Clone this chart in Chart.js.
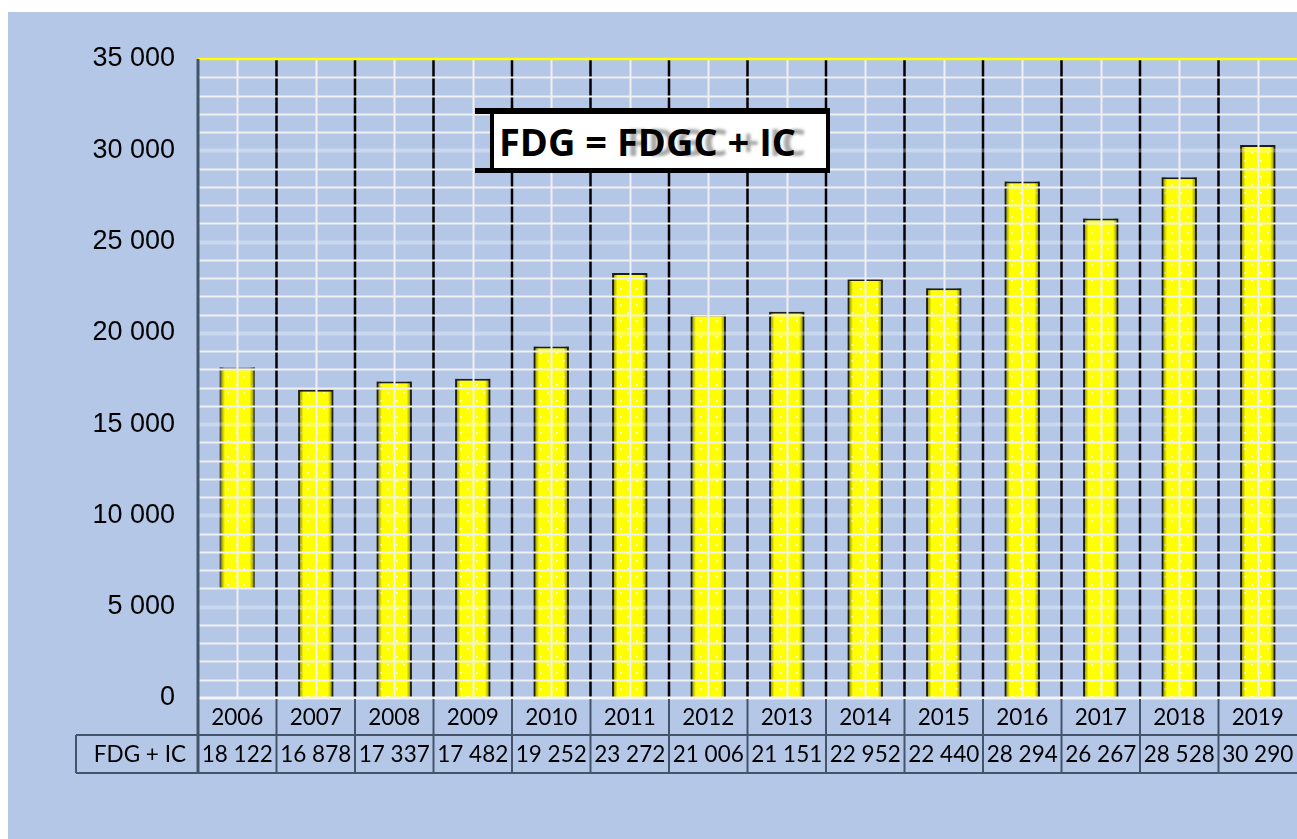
<!DOCTYPE html>
<html>
<head>
<meta charset="utf-8">
<script src="https://cdn.jsdelivr.net/npm/chart.js@4.4.1/dist/chart.umd.min.js"></script>
<style>
  body { margin: 0; background: #fff; }
  #wrap { position: absolute; left: 8px; top: 12px; width: 1289px; height: 827px; background: #b4c7e7; }
  #c { position: absolute; left: 0; top: 0; }
  .stub { position: absolute; background: #000; }
  #titleBox { position: absolute; left: 482px; top: 96px; width: 340px; height: 65px; box-sizing: border-box;
    background: #fff; border: 4px solid #000; border-top-width: 6px; border-bottom-width: 5px;
    font-family: "Open Sans", sans-serif; font-weight: 700; font-size: 38px; color: #000;
    line-height: 54px; padding-left: 5px; white-space: nowrap; overflow: hidden; }
  #titleBox span { text-shadow: 10px 0 3px rgba(0,0,0,0.35); }
</style>
</head>
<body>
<div id="wrap">
  <canvas id="c" width="1289" height="827"></canvas>
  <div class="stub" style="left:467px;top:96px;width:20px;height:6px"></div>
  <div class="stub" style="left:467px;top:156px;width:20px;height:5px"></div>
  <div id="titleBox">FDG = <span>FDGC + IC</span></div>
</div>
<script>
const years = ["2006","2007","2008","2009","2010","2011","2012","2013","2014","2015","2016","2017","2018","2019"];
const fdgIc = [18122, 16878, 17337, 17482, 19252, 23272, 21006, 21151, 22952, 22440, 28294, 26267, 28528, 30290];
const barStart = [6000, 0, 0, 0, 0, 0, 0, 0, 0, 0, 0, 0, 0, 0]; // 2006 bar floats in the picture
const rowLabel = "FDG + IC";
const yTicks = [0, 5000, 10000, 15000, 20000, 25000, 30000, 35000];

function fmt(v) { return String(v).replace(/\B(?=(\d{3})+(?!\d))/g, " "); }

// yellow fill with little white dots
function dotPattern() {
    const p = document.createElement('canvas'); p.width = 16; p.height = 16;
    const g = p.getContext('2d');
    g.fillStyle = '#ffff00'; g.fillRect(0, 0, 16, 16);
    g.fillStyle = 'rgba(255,255,255,0.8)';
    g.fillRect(4, 4, 2, 2); g.fillRect(11, 12, 2, 2);
    return g.createPattern(p, 'repeat');
}

// 1. bar shading + grid drawn on top of the bars
const overlay = {
    id: 'overlay',
    afterDatasetsDraw(chart) {
        const ctx = chart.ctx, a = chart.chartArea, x = chart.scales.x, y = chart.scales.y;
        const w = (a.right - a.left) / years.length;
        ctx.save();
        chart.getDatasetMeta(0).data.forEach(el => {
            const p = el.getProps(['x', 'y', 'base', 'width'], true);
            const l = p.x - p.width / 2, r = p.x + p.width / 2;
            const gr = ctx.createLinearGradient(l, 0, r, 0);
            gr.addColorStop(0, 'rgba(40,40,0,0.6)'); gr.addColorStop(0.15, 'rgba(0,0,0,0)');
            gr.addColorStop(0.85, 'rgba(0,0,0,0)'); gr.addColorStop(1, 'rgba(40,40,0,0.6)');
            ctx.fillStyle = gr; ctx.fillRect(l, Math.min(p.y, p.base), r - l, Math.abs(p.base - p.y));
        });
        // black separators between years
        ctx.strokeStyle = '#000'; ctx.lineWidth = 2.5;
        for (let i = 1; i < years.length; i++) {
            const xx = a.left + i * w;
            ctx.beginPath(); ctx.moveTo(xx, a.top); ctx.lineTo(xx, a.bottom); ctx.stroke();
        }
        // white minor lines every 1000, lighter bands at the 5000 steps
        for (let v = 1000; v < 35000; v += 1000) {
            const yy = Math.round(y.getPixelForValue(v)) + 0.5;
            if (v % 5000 === 0) { ctx.strokeStyle = 'rgba(255,255,255,0.3)'; ctx.lineWidth = 4; }
            else { ctx.strokeStyle = '#f0f0f0'; ctx.lineWidth = 2; }
            ctx.beginPath(); ctx.moveTo(a.left, yy); ctx.lineTo(a.right, yy); ctx.stroke();
        }
        // white line through each bar centre
        ctx.strokeStyle = '#f0f0f0'; ctx.lineWidth = 2;
        years.forEach((yr, i) => {
            const xx = Math.round(x.getPixelForValue(i)) + 0.5;
            ctx.beginPath(); ctx.moveTo(xx, a.top); ctx.lineTo(xx, a.bottom); ctx.stroke();
        });
        // top yellow, bottom white
        ctx.strokeStyle = '#ffff00'; ctx.lineWidth = 2.5;
        ctx.beginPath(); ctx.moveTo(a.left, a.top); ctx.lineTo(a.right, a.top); ctx.stroke();
        ctx.strokeStyle = '#f4f4f4'; ctx.lineWidth = 3;
        ctx.beginPath(); ctx.moveTo(a.left, a.bottom); ctx.lineTo(a.right, a.bottom); ctx.stroke();
        ctx.restore();
    },
    // 2. data table under the axis
    afterDraw(chart) {
        const ctx = chart.ctx, a = chart.chartArea, x = chart.scales.x;
        const w = (a.right - a.left) / years.length;
        const r1 = a.bottom + 37, r2 = a.bottom + 75, left = 68;
        ctx.save();
        ctx.strokeStyle = '#44546a'; ctx.lineWidth = 2;
        for (let i = 1; i < years.length; i++) {
            const xx = a.left + i * w;
            ctx.beginPath(); ctx.moveTo(xx, a.bottom + 1); ctx.lineTo(xx, r2); ctx.stroke();
        }
        ctx.beginPath(); ctx.moveTo(left, r1); ctx.lineTo(a.right, r1); ctx.stroke();
        ctx.beginPath(); ctx.moveTo(left, r2); ctx.lineTo(a.right, r2); ctx.stroke();
        ctx.beginPath(); ctx.moveTo(left, r1); ctx.lineTo(left, r2); ctx.stroke();
        ctx.lineWidth = 3;
        ctx.beginPath(); ctx.moveTo(a.left, a.top); ctx.lineTo(a.left, r2); ctx.stroke();
        ctx.fillStyle = '#000'; ctx.font = '22.5px Lato'; ctx.textBaseline = 'middle';
        ctx.textAlign = 'right'; ctx.fillText(rowLabel, a.left - 12, (r1 + r2) / 2 + 1);
        ctx.textAlign = 'center';
        fdgIc.forEach((v, i) => ctx.fillText(fmt(v), x.getPixelForValue(i), (r1 + r2) / 2 + 1));
        ctx.restore();
    }
};

new Chart(document.getElementById('c'), {
    type: 'bar',
    data: {
        labels: years,
        datasets: [{
            label: rowLabel,
            data: fdgIc.map((v, i) => [barStart[i], v]),
            backgroundColor: dotPattern(),
            borderColor: c => c.dataIndex === 0 ? 'rgba(90,90,40,0.5)' : '#1e1e1e',
            borderWidth: 2,
            barPercentage: 0.45,
            categoryPercentage: 1
        }]
    },
    options: {
        responsive: false, devicePixelRatio: 1, animation: false,
        layout: { padding: { top: 47, left: 0, right: 0, bottom: 0 } },
        plugins: { legend: { display: false }, tooltip: { enabled: false } },
        scales: {
            x: {
                grid: { display: false, drawTicks: false }, border: { display: false },
                ticks: { color: '#000', font: { family: 'Lato', size: 22.5 }, padding: 6, maxRotation: 0 },
                afterFit: s => { s.height = 141; }
            },
            y: {
                min: 0, max: 35000,
                grid: { display: false, drawTicks: false }, border: { display: false },
                afterBuildTicks: s => { s.ticks = yTicks.map(v => ({ value: v })); },
                ticks: { color: '#000', font: { family: 'Liberation Sans', size: 27 }, padding: 23, callback: v => fmt(v) },
                afterFit: s => { s.width = 190; }
            }
        }
    },
    plugins: [overlay]
});
</script>
</body>
</html>
